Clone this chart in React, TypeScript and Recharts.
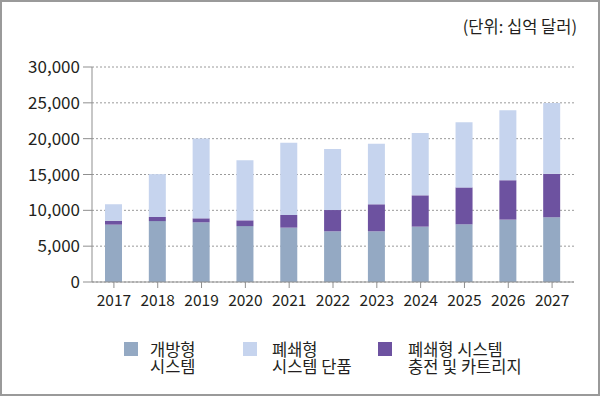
import { BarChart, Bar, XAxis, YAxis, CartesianGrid } from 'recharts';

const years = ['2017', '2018', '2019', '2020', '2021', '2022', '2023', '2024', '2025', '2026', '2027'];
const openSystem = [8000, 8500, 8330, 7800, 7580, 7070, 7070, 7720, 8050, 8700, 9030];
const podsAndCartridges = [550, 570, 550, 800, 1770, 2970, 3770, 4370, 5150, 5500, 6070];
const closedDevices = [2300, 5980, 11160, 8400, 10080, 8510, 8450, 8690, 9100, 9780, 9860];
const yTicks = [0, 5000, 10000, 15000, 20000, 25000, 30000];

const FONT = "'Noto Sans CJK KR', 'Noto Sans', sans-serif";
const TEXT = '#231f20';
const AXIS = '#8f8f8f';

const C_OPEN = '#94a9c3';
const C_CLOSED = '#c6d4ee';
const C_PODS = '#6d52a0';

const legendItems = [
  { color: C_OPEN, lines: ['개방형', '시스템'], left: 124, textLeft: 150 },
  { color: C_CLOSED, lines: ['폐쇄형', '시스템 단품'], left: 243, textLeft: 272 },
  { color: C_PODS, lines: ['폐쇄형 시스템', '충전 및 카트리지'], left: 378, textLeft: 408 },
];

const data = years.map((year, i) => ({
  year,
  open: openSystem[i],
  pods: podsAndCartridges[i],
  closed: closedDevices[i],
}));

export default function App() {
  return (
    <div
      style={{
        position: 'fixed',
        left: 0,
        top: 0,
        width: 600,
        height: 396,
        boxSizing: 'border-box',
        border: '2px solid #9a9a9a',
        background: '#fff',
        fontFamily: FONT,
        color: TEXT,
      }}
    >
      <div style={{ position: 'absolute', left: -2, top: -2 }}>
        <BarChart
          width={600}
          height={396}
          data={data}
          margin={{ top: 67, right: 26, left: 0, bottom: 84 }}
        >
          <CartesianGrid vertical={false} stroke="#9a9a9a" strokeDasharray="2 2" />
          <XAxis
            dataKey="year"
            height={30}
            stroke={AXIS}
            tickSize={6}
            tickMargin={7}
            tick={{ fontSize: 15.5, fill: TEXT, fontFamily: FONT }}
          />
          <YAxis
            width={92}
            domain={[0, 30000]}
            ticks={yTicks}
            stroke={AXIS}
            tickSize={9}
            tickMargin={3}
            tickFormatter={(v: number) => v.toLocaleString('en-US')}
            tick={{ fontSize: 17, fill: TEXT, fontFamily: FONT }}
          />
          <Bar dataKey="open" stackId="a" fill={C_OPEN} barSize={17} isAnimationActive={false} />
          <Bar dataKey="pods" stackId="a" fill={C_PODS} barSize={17} isAnimationActive={false} />
          <Bar dataKey="closed" stackId="a" fill={C_CLOSED} barSize={17} isAnimationActive={false} />
        </BarChart>
      </div>

      <div
        style={{
          position: 'absolute',
          right: 21,
          top: 12,
          fontSize: 16.5,
          whiteSpace: 'nowrap',
        }}
      >
        (단위: 십억 달러)
      </div>

      {legendItems.map((item) => (
        <div key={item.lines[0] + item.left}>
          <div
            style={{
              position: 'absolute',
              left: item.left - 2,
              top: 340,
              width: 14,
              height: 14,
              background: item.color,
            }}
          />
          {item.lines.map((line, j) => (
            <div
              key={line}
              style={{
                position: 'absolute',
                left: item.textLeft - 2,
                top: 339 + j * 16.5,
                fontSize: 16.5,
                lineHeight: '16.5px',
                whiteSpace: 'nowrap',
              }}
            >
              {line}
            </div>
          ))}
        </div>
      ))}
    </div>
  );
}
